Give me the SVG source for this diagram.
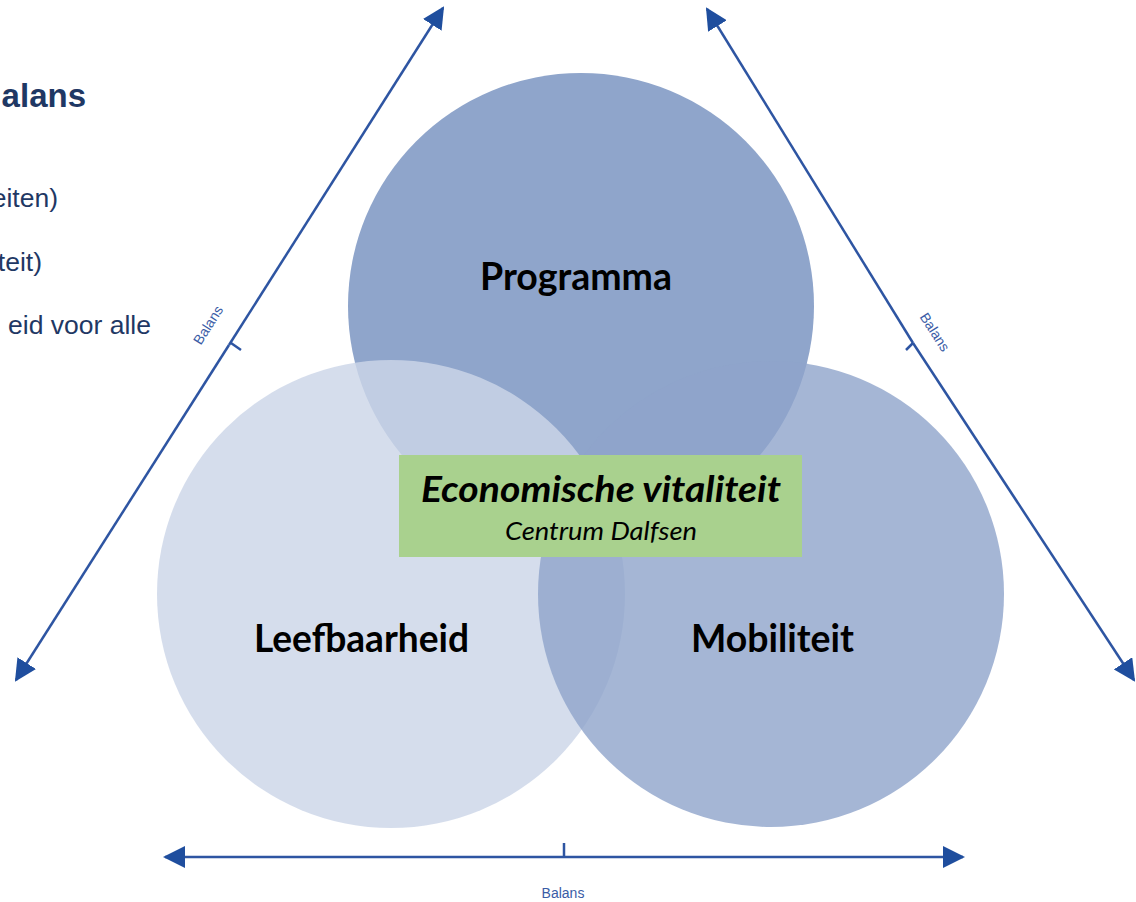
<svg xmlns="http://www.w3.org/2000/svg" width="1136" height="902" viewBox="0 0 1136 902">
<defs>
<style>
.side{font-family:"Liberation Sans",Arial,sans-serif;fill:#1F3864}
.bal{font-family:"Liberation Sans",Arial,sans-serif;fill:#3A5CA6;font-size:14px}
.lbl{font-family:Lato,"Open Sans",sans-serif;font-weight:bold;fill:#000;font-size:37.5px;text-anchor:middle}
.ax{stroke:#2E55A2;stroke-width:2.5;fill:none}
</style>
<marker id="ah" markerUnits="userSpaceOnUse" viewBox="0 0 22 22" markerWidth="22" markerHeight="22" refX="20" refY="11" orient="auto">
<path d="M0,0 L22,11 L0,22 Z" fill="#1F4E9E"/>
</marker>
</defs>
<rect width="1136" height="902" fill="#fff"/>

<g id="sidetext">
<text class="side" x="86" y="107" font-size="33" font-weight="bold" text-anchor="end">alans</text>
<text class="side" x="58" y="207" font-size="26.5" text-anchor="end">eiten)</text>
<text class="side" x="42" y="271" font-size="26.5" text-anchor="end">teit)</text>
<text class="side" x="151" y="334" font-size="26.5" text-anchor="end">eid voor alle</text>
</g>

<g id="programma">
<circle cx="581" cy="306" r="233" fill="#8FA5CB"/>
<text class="lbl" x="576" y="290" textLength="192" lengthAdjust="spacingAndGlyphs">Programma</text>
</g>
<g id="leefbaarheid">
<circle cx="391" cy="594" r="234" fill="#CCD5E8" fill-opacity="0.82"/>
</g>
<g id="mobiliteit">
<circle cx="771" cy="594" r="233" fill="#8EA4CB" fill-opacity="0.8"/>
</g>
<text class="lbl" x="361.5" y="652" textLength="215" lengthAdjust="spacingAndGlyphs">Leefbaarheid</text>
<text class="lbl" x="772.5" y="652" textLength="163" lengthAdjust="spacingAndGlyphs">Mobiliteit</text>

<g id="economische-vitaliteit">
<rect x="399" y="455" width="403" height="102" fill="#A9D18E"/>
<text x="601" y="502" font-family="Lato,'Open Sans',sans-serif" font-weight="bold" font-style="italic" font-size="37" text-anchor="middle" fill="#000" textLength="360" lengthAdjust="spacingAndGlyphs">Economische vitaliteit</text>
<text x="601" y="540" font-family="Lato,'Open Sans',sans-serif" font-style="italic" font-size="26" text-anchor="middle" fill="#000" textLength="192" lengthAdjust="spacingAndGlyphs">Centrum Dalfsen</text>
</g>

<g id="connectors">
<line class="ax" x1="229" y1="345" x2="443" y2="8" marker-end="url(#ah)"/>
<line class="ax" x1="229" y1="345" x2="16" y2="680" marker-end="url(#ah)"/>
<line class="ax" x1="231" y1="343" x2="241" y2="350"/>
<line class="ax" x1="913" y1="343" x2="707" y2="9" marker-end="url(#ah)"/>
<line class="ax" x1="913" y1="343" x2="1134" y2="680" marker-end="url(#ah)"/>
<line class="ax" x1="913" y1="343" x2="906" y2="350"/>
<line class="ax" x1="564" y1="857" x2="165" y2="857" marker-end="url(#ah)"/>
<line class="ax" x1="564" y1="857" x2="963" y2="857" marker-end="url(#ah)"/>
<line class="ax" x1="564" y1="857" x2="564" y2="843"/>
<text class="bal" x="0" y="5" text-anchor="middle" transform="translate(208,325) rotate(-57.7)">Balans</text>
<text class="bal" x="0" y="5" text-anchor="middle" transform="translate(935,332) rotate(57.5)">Balans</text>
<text class="bal" x="563" y="898" text-anchor="middle">Balans</text>
</g>
</svg>
